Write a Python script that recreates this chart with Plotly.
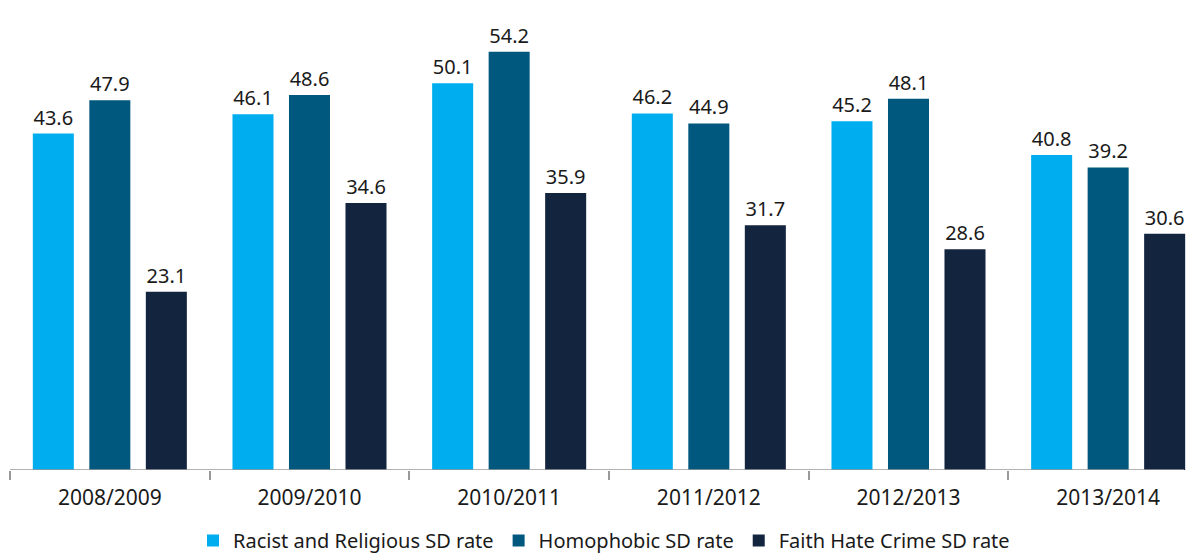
import plotly.graph_objects as go

years = ["2008/2009", "2009/2010", "2010/2011", "2011/2012", "2012/2013", "2013/2014"]
racist_religious = [43.6, 46.1, 50.1, 46.2, 45.2, 40.8]
homophobic = [47.9, 48.6, 54.2, 44.9, 48.1, 39.2]
faith_hate = [23.1, 34.6, 35.9, 31.7, 28.6, 30.6]

series = [
    ("Racist and Religious SD rate", racist_religious, "#00AEEF"),
    ("Homophobic SD rate", homophobic, "#00587E"),
    ("Faith Hate Crime SD rate", faith_hate, "#13243F"),
]

FONT = "Noto Sans, Open Sans, sans-serif"
TEXT = "#1a1a1a"

fig = go.Figure()
for name, vals, color in series:
    fig.add_trace(go.Bar(
        name=name,
        x=years,
        y=vals,
        marker=dict(color=color, line=dict(width=0)),
        text=[f"{v:.1f}" for v in vals],
        textposition="outside",
        cliponaxis=False,
        textfont=dict(size=20, color=TEXT, family=FONT),
    ))

# baseline axis line, stopping at the right edge of the last group
fig.add_shape(type="line", xref="x", yref="y", x0=-0.5, x1=5.38, y0=0, y1=0,
              line=dict(color="#999999", width=1.5), layer="above")

fig.update_layout(
    width=1198,
    height=560,
    margin=dict(l=10, r=0, t=0, b=90, autoexpand=False),
    paper_bgcolor="white",
    plot_bgcolor="white",
    barmode="group",
    bargap=0.151,
    bargroupgap=0.274,
    font=dict(family=FONT, size=20, color=TEXT),
    showlegend=True,
    legend=dict(
        orientation="h",
        x=0.5, xanchor="center",
        yref="container",
        y=0.0, yanchor="bottom",
        font=dict(size=20, family=FONT, color=TEXT),
        itemsizing="constant",
        traceorder="normal",
    ),
    xaxis=dict(
        type="category",
        range=[-0.5, 5.45],
        showline=False,
        ticks="outside",
        tickson="boundaries",
        ticklen=9,
        tickwidth=1.5,
        tickcolor="#999999",
        ticklabelstandoff=13,
        showgrid=False,
        tickfont=dict(size=21, family=FONT, color=TEXT),
        fixedrange=True,
    ),
    yaxis=dict(
        range=[0, 60.9],
        visible=False,
        showgrid=False,
        zeroline=False,
        fixedrange=True,
    ),
)

fig.write_html("out.html")
